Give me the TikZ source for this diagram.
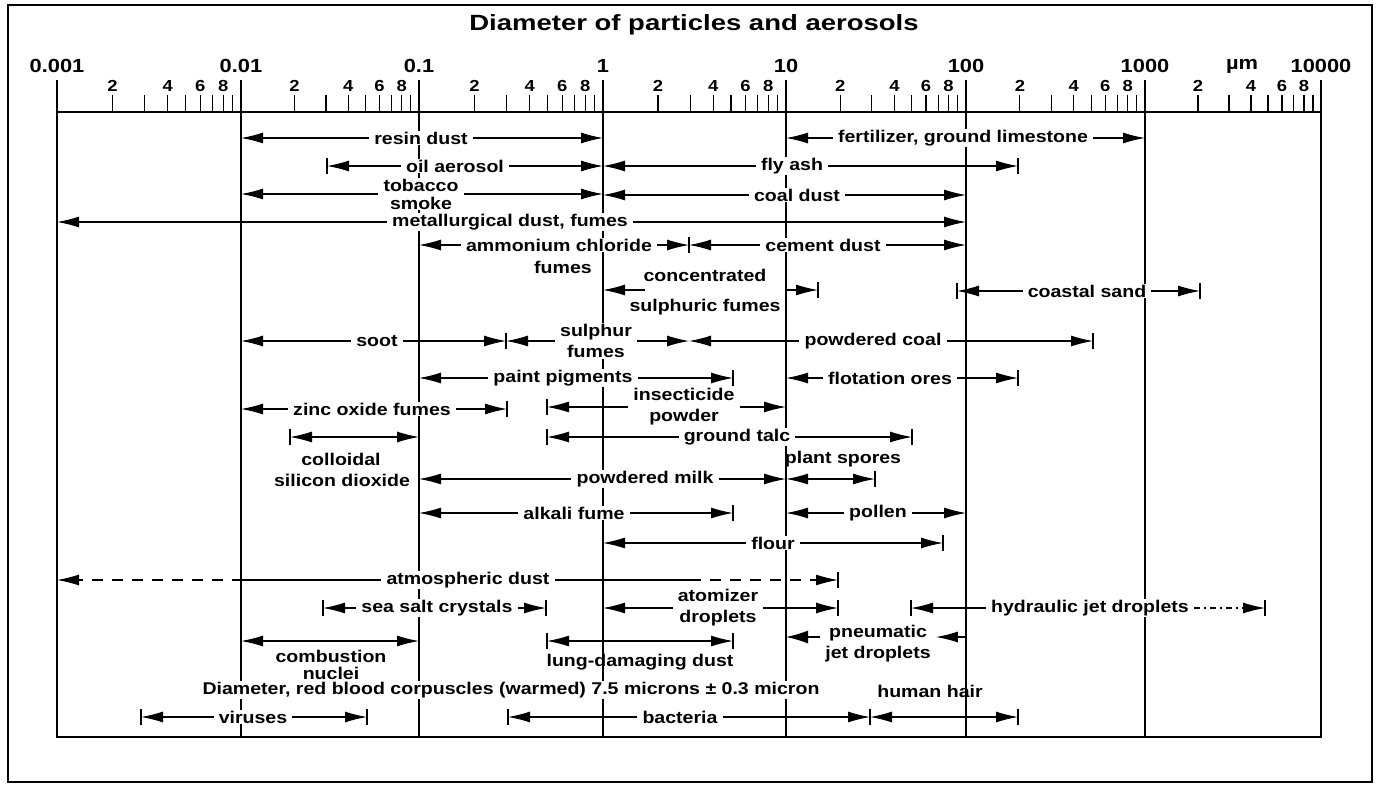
\documentclass[tikz,border=0pt]{standalone}
\usepackage{fontspec}
\setmainfont{Liberation Sans}
\newfontfamily\labfont{Liberation Sans}[FakeStretch=1.15]
\newfontfamily\ttlfont{Liberation Sans}[FakeStretch=1.25]
\usetikzlibrary{arrows.meta}
\tikzset{
  frame/.style={line width=1.4pt},
  box/.style={line width=1.5pt},
  grid/.style={line width=1.2pt},
  tick/.style={line width=1.2pt},
  lbl/.style={font=\labfont\bfseries\fontsize{17}{21}\selectfont, fill=white, inner xsep=5pt, inner ysep=1pt, align=center},
  plain/.style={font=\labfont\bfseries\fontsize{17}{21}\selectfont, inner sep=1pt, align=center},
  declab/.style={font=\labfont\bfseries\fontsize{19}{22}\selectfont, inner sep=0pt},
  minlab/.style={font=\labfont\bfseries\fontsize{16}{19}\selectfont, inner sep=0pt},
  title/.style={font=\ttlfont\bfseries\fontsize{22}{26}\selectfont, inner sep=0pt},
  tip/.tip={Latex[length=22pt,width=11pt]},
  arr/.style={line width=1.1pt, -tip},
  arrs/.style={line width=1.1pt, tip-tip},
  plainline/.style={line width=1.1pt},
  endbar/.style={line width=1.4pt},
}
\newcommand\rng[6]{%
  \node[lbl] (#1) at (#5,#2) {#6};
  \coordinate (#1L) at (#3,#2);
  \coordinate (#1R) at (#4,#2);
  \draw[arr] (#1.west) -- (#1L);
  \draw[arr] (#1.east) -- (#1R);
}
\newcommand\ebar[1]{\draw[endbar] ([yshift=8pt]#1) -- ([yshift=-8pt]#1);}
\begin{document}
\begin{tikzpicture}[x=1pt,y=-1pt]
\useasboundingbox (0,0) rectangle (1379,785);
\fill[white] (0,0) rectangle (1379,785);
\draw[frame] (8,5) rectangle (1372,782);
\node[title] (ttl) at (694,25) {Diameter of particles and aerosols};
% axis ticks and labels
\foreach \a/\b [count=\k] in {57/241,241/419,419/603,603/786,786/966,966/1145,1145/1321} {
  \foreach \m in {2,...,9} {
    \pgfmathsetmacro\xx{\a+(\b-\a)*log10(\m)}
    \draw[tick] (\xx,95) -- (\xx,112);
  }
  \foreach \m in {2,4,6,8} {
    \pgfmathsetmacro\xx{\a+(\b-\a)*log10(\m)}
    \node[minlab] (m\k-\m) at (\xx,86) {\m};
  }
}
\foreach \x/\t [count=\i] in {57/0.001,241/0.01,419/0.1,603/1,786/10,966/100,1145/1000,1321/10000} {
  \draw[tick] (\x,80) -- (\x,112);
  \node[declab] (d\i) at (\x,66) {\t};
}
\node[declab] (unit) at (1242,66) {µm};
% box and grid
\foreach \x in {241,419,603,786,966,1145} \draw[grid] (\x,112) -- (\x,737);
\draw[box] (57,112) rectangle (1321,737);
% rows
\rng{resin}{138}{241}{603}{421}{resin dust}
\rng{fert}{138}{786}{1145}{963}{fertilizer, ground limestone}
\rng{oil}{166}{327}{603}{455}{oil aerosol}\ebar{oilL}
\rng{fly}{166}{603}{1018}{792}{fly ash}\ebar{flyR}
\rng{tob}{194}{241}{603}{421}{tobacco\\[-3pt]smoke}
\rng{coal}{195}{603}{966}{797}{coal dust}
\rng{met}{222}{57}{966}{510}{metallurgical dust, fumes}
\rng{amm}{245}{419}{689}{559}{ammonium chloride}\ebar{ammR}
\node[plain] (ammf) at (563,267) {fumes};
\rng{cem}{245}{689}{966}{823}{cement dust}
% concentrated sulphuric fumes
\coordinate (conL) at (603,290);
\coordinate (conR) at (818,290);
\coordinate (conA) at (645,290);
\coordinate (conB) at (785,290);
\node[plain] (con1) at (705,275) {concentrated};
\node[plain] (con2) at (705,307) {sulphuric fumes};
\draw[arr] (conA) -- (conL);
\draw[arr] (conB) -- (conR);\ebar{conR}
\rng{coast}{291}{957}{1200}{1087}{coastal sand}\ebar{coastL}\ebar{coastR}
\rng{soot}{341}{241}{506}{377}{soot}\ebar{sootR}
\rng{sul}{341}{506}{689}{596}{sulphur\\fumes}
\rng{pcoal}{341}{689}{1093}{873}{powdered coal}\ebar{pcoalR}
\rng{paint}{378}{419}{733}{563}{paint pigments}\ebar{paintR}
\rng{flot}{378}{786}{1018}{890}{flotation ores}\ebar{flotR}
\rng{zinc}{409}{241}{507}{372}{zinc oxide fumes}\ebar{zincR}
\rng{ins}{407}{547}{786}{684}{insecticide\\powder}\ebar{insL}
% colloidal silicon dioxide
\coordinate (colL) at (290,437);
\coordinate (colR) at (419,437);
\draw[arrs] (colL) -- (colR);\ebar{colL}
\node[plain] (col1) at (341,459) {colloidal};
\node[lbl, inner xsep=2pt] (col2) at (342,480) {silicon dioxide};
\rng{talc}{437}{547}{912}{737}{ground talc}\ebar{talcL}\ebar{talcR}
\rng{milk}{479}{419}{786}{645}{powdered milk}
% plant spores
\coordinate (sporL) at (786,479);
\coordinate (sporR) at (875,479);
\draw[arrs] (sporL) -- (sporR);\ebar{sporR}
\node[plain] (spor) at (843,459) {plant spores};
\rng{alk}{513}{419}{733}{574}{alkali fume}\ebar{alkR}
\rng{pol}{513}{786}{966}{878}{pollen}
\rng{flour}{543}{603}{943}{773}{flour}\ebar{flourR}
% atmospheric dust
\node[lbl] (atm) at (468,580) {atmospheric dust};
\coordinate (atmL) at (57,580);
\coordinate (atmA) at (243,580);
\coordinate (atmB) at (690,580);
\coordinate (atmR) at (838,580);
\draw[plainline] (atm.west) -- (atmA);
\draw[arr, dash pattern=on 11pt off 9pt] (atmA) -- (atmL);
\draw[plainline] (atm.east) -- (atmB);
\draw[arr, dash pattern=on 11pt off 9pt] (atmB) -- (atmR);\ebar{atmR}
\rng{salt}{608}{323}{546}{437}{sea salt crystals}\ebar{saltL}\ebar{saltR}
\rng{atom}{608}{603}{838}{718}{atomizer\\droplets}\ebar{atomR}
% hydraulic jet droplets
\node[lbl] (hyd) at (1090,608) {hydraulic jet droplets};
\coordinate (hydL) at (911,608);
\coordinate (hydR) at (1265,608);
\draw[arr] (hyd.west) -- (hydL);
\draw[arr, dash pattern=on 6pt off 4pt on 2pt off 4pt] (hyd.east) -- (hydR);
\ebar{hydL}\ebar{hydR}
% combustion nuclei
\coordinate (comL) at (241,641);
\coordinate (comR) at (419,641);
\draw[arrs] (comL) -- (comR);
\node[plain] (com) at (331,665) {combustion\\[-4pt]nuclei};
% lung-damaging dust
\coordinate (lungL) at (547,641);
\coordinate (lungR) at (733,641);
\draw[arrs] (lungL) -- (lungR);\ebar{lungL}\ebar{lungR}
\node[plain] (lung) at (640,662) {lung-damaging dust};
% pneumatic jet droplets
\node[lbl] (pneu) at (878,644) {pneumatic\\jet droplets};
\coordinate (pneuL) at (786,637);
\coordinate (pneuR) at (966,637);
\draw[line width=1.1pt, -{Latex[length=22pt,width=13pt]}] (pneu.west |- pneuL) -- (pneuL);
\draw[arr] (pneuR) -- (pneu.east |- pneuR);
% red blood corpuscles
\node[lbl] (rbc) at (511,690) {Diameter, red blood corpuscles (warmed) 7.5 microns ± 0.3 micron};
% human hair
\node[plain] (hairlab) at (930,691) {human hair};
\coordinate (hairL) at (870,717);
\coordinate (hairR) at (1018,717);
\draw[arrs] (hairL) -- (hairR);\ebar{hairR}
\rng{vir}{717}{141}{367}{253}{viruses}\ebar{virL}\ebar{virR}
\rng{bac}{717}{508}{870}{680}{bacteria}\ebar{bacL}\ebar{bacR}
\end{tikzpicture}
\end{document}
